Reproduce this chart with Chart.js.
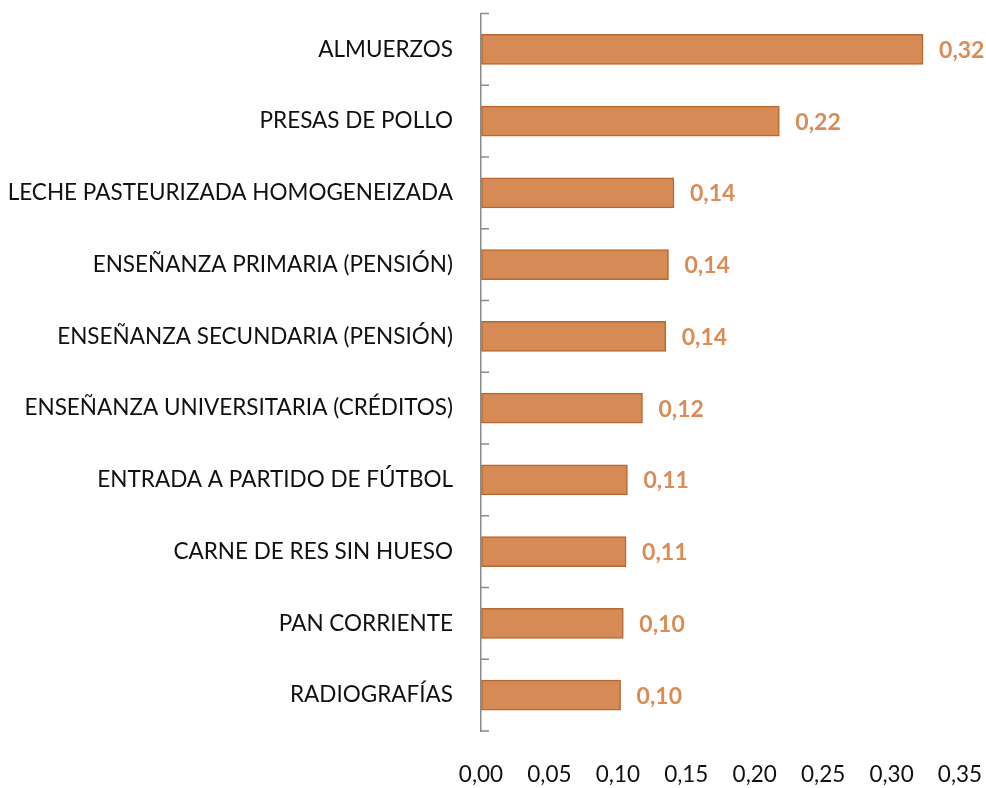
<!DOCTYPE html>
<html>
<head>
<meta charset="utf-8">
<script src="https://cdn.jsdelivr.net/npm/chart.js@4"></script>
<style>
  body { margin: 0; background: #fff; }
  #wrap { width: 986px; height: 788px; }
</style>
</head>
<body>
<div id="wrap"><canvas id="chart" width="986" height="788"></canvas></div>
<script>
// categories, top to bottom
const categories = [
  'ALMUERZOS',
  'PRESAS DE POLLO',
  'LECHE PASTEURIZADA HOMOGENEIZADA',
  'ENSEÑANZA PRIMARIA (PENSIÓN)',
  'ENSEÑANZA SECUNDARIA (PENSIÓN)',
  'ENSEÑANZA UNIVERSITARIA (CRÉDITOS)',
  'ENTRADA A PARTIDO DE FÚTBOL',
  'CARNE DE RES SIN HUESO',
  'PAN CORRIENTE',
  'RADIOGRAFÍAS'
]
const values = [0.323, 0.218, 0.141, 0.137, 0.135, 0.118, 0.107, 0.106, 0.104, 0.102]
const xTicks = [0, 0.05, 0.10, 0.15, 0.20, 0.25, 0.30, 0.35]

const barFill = '#D68A55'
const barBorder = '#B9682D'
const fontName = 'Lato'

function fmt(v) {
  return v.toFixed(2).replace('.', ',')
}

// value labels at the end of each bar
const barLabels = {
  id: 'barLabels',
  afterDatasetsDraw(chart) {
    const ctx = chart.ctx
    const meta = chart.getDatasetMeta(0)
    ctx.save()
    ctx.font = 'bold 23px ' + fontName
    ctx.fillStyle = '#D98C55'
    ctx.textAlign = 'left'
    ctx.textBaseline = 'middle'
    meta.data.forEach((bar, i) => {
      ctx.fillText(fmt(values[i]), bar.x + 16, bar.y + 1)
    })
    ctx.restore()
  }
}

// small marks at category boundaries, inside the plot
const catMarks = {
  id: 'catMarks',
  afterDraw(chart) {
    const y = chart.scales.y
    const ctx = chart.ctx
    const step = (y.bottom - y.top) / categories.length
    ctx.save()
    ctx.strokeStyle = '#8A8A8A'
    ctx.lineWidth = 1.5
    ctx.beginPath()
    for (let i = 0; i <= categories.length; i++) {
      const py = y.top + i * step
      ctx.moveTo(y.right, py)
      ctx.lineTo(y.right + 8, py)
    }
    ctx.stroke()
    ctx.restore()
  }
}

new Chart(document.getElementById('chart'), {
  type: 'bar',
  data: {
    labels: categories,
    datasets: [{
      data: values,
      backgroundColor: barFill,
      borderColor: barBorder,
      borderWidth: 1.5,
      borderSkipped: false,
      barThickness: 30
    }]
  },
  options: {
    indexAxis: 'y',
    responsive: false,
    animation: false,
    layout: { padding: { top: 13, right: 26, bottom: 0, left: 0 } },
    plugins: {
      legend: { display: false },
      tooltip: { enabled: false },
      title: { display: false }
    },
    scales: {
      x: {
        min: 0,
        max: 0.35,
        afterBuildTicks(scale) {
          scale.ticks = xTicks.map(v => ({ value: v }))
        },
        // invisible tick marks just to push the labels down
        grid: { display: true, drawOnChartArea: false, drawTicks: true, tickLength: 30, color: 'rgba(0,0,0,0)' },
        border: { display: false },
        ticks: {
          padding: 0,
          maxRotation: 0,
          color: '#111',
          font: { family: fontName, size: 22.5 },
          callback: v => fmt(v)
        }
      },
      y: {
        afterFit(scale) { scale.width = 481 },
        grid: { display: true, drawOnChartArea: false, drawTicks: true, tickLength: 28, color: 'rgba(0,0,0,0)' },
        border: { display: true, color: '#8A8A8A', width: 1.5 },
        ticks: {
          padding: 0,
          color: '#111',
          font: { family: fontName, size: 22.5 }
        }
      }
    }
  },
  plugins: [barLabels, catMarks]
})
</script>
</body>
</html>
